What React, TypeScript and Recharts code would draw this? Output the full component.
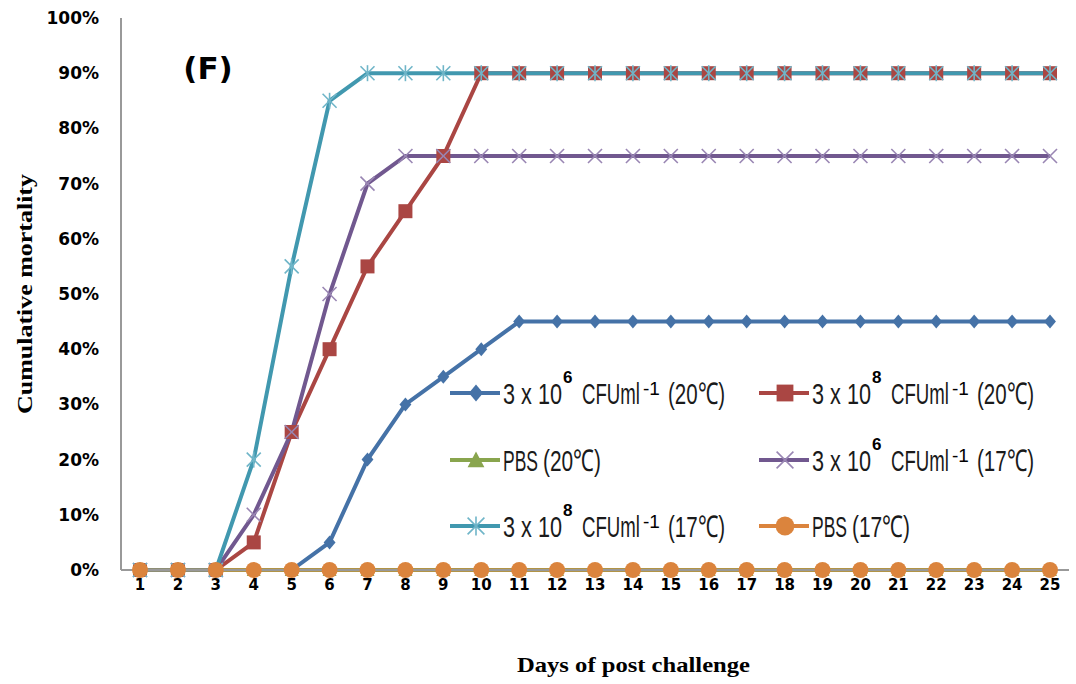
import React from 'react';
import { LineChart, Line, XAxis, YAxis } from 'recharts';

const days = ['1','2','3','4','5','6','7','8','9','10','11','12','13','14','15','16','17','18','19','20','21','22','23','24','25'];
const blue20e6 = [0,0,0,0,0,5,20,30,35,40,45,45,45,45,45,45,45,45,45,45,45,45,45,45,45];
const red20e8 = [0,0,0,5,25,40,55,65,75,90,90,90,90,90,90,90,90,90,90,90,90,90,90,90,90];
const pbs20 = [0,0,0,0,0,0,0,0,0,0,0,0,0,0,0,0,0,0,0,0,0,0,0,0,0];
const purple17e6 = [0,0,0,10,25,50,70,75,75,75,75,75,75,75,75,75,75,75,75,75,75,75,75,75,75];
const cyan17e8 = [0,0,0,20,55,85,90,90,90,90,90,90,90,90,90,90,90,90,90,90,90,90,90,90,90];
const pbs17 = [0,0,0,0,0,0,0,0,0,0,0,0,0,0,0,0,0,0,0,0,0,0,0,0,0];
const yTicks = [0,10,20,30,40,50,60,70,80,90,100];

const data = days.map((d, i) => ({
  day: d,
  a: blue20e6[i],
  b: red20e8[i],
  c: pbs20[i],
  d: purple17e6[i],
  e: cyan17e8[i],
  f: pbs17[i],
}));

type Kind = 'diamond' | 'square' | 'triangle' | 'x' | 'star' | 'circle';

const series: { key: string; color: string; mark: string; kind: Kind; width: number; base: string; exp?: string; temp: string }[] = [
  { key: 'a', color: '#4572A7', mark: '#4572A7', kind: 'diamond', width: 4, base: '3 x 10', exp: '6', temp: '(20℃)' },
  { key: 'b', color: '#AA4643', mark: '#AA4643', kind: 'square', width: 4, base: '3 x 10', exp: '8', temp: '(20℃)' },
  { key: 'c', color: '#89A54E', mark: '#89A54E', kind: 'triangle', width: 4, base: 'PBS', temp: '(20℃)' },
  { key: 'd', color: '#71588F', mark: '#9986B3', kind: 'x', width: 4, base: '3 x 10', exp: '6', temp: '(17℃)' },
  { key: 'e', color: '#4198AF', mark: '#6FB5C8', kind: 'star', width: 4, base: '3 x 10', exp: '8', temp: '(17℃)' },
  { key: 'f', color: '#DB843D', mark: '#DB843D', kind: 'circle', width: 3, base: 'PBS', temp: '(17℃)' },
];

function Marker({ cx, cy, kind, color, s = 1 }: { cx: number; cy: number; kind: Kind; color: string; s?: number }) {
  const r = 7 * s;
  switch (kind) {
    case 'diamond':
      return <polygon points={`${cx},${cy - r} ${cx + r * 0.85},${cy} ${cx},${cy + r} ${cx - r * 0.85},${cy}`} fill={color} />;
    case 'square':
      return <rect x={cx - r} y={cy - r} width={2 * r} height={2 * r} fill={color} />;
    case 'triangle':
      return <polygon points={`${cx},${cy - r} ${cx + r},${cy + r * 0.85} ${cx - r},${cy + r * 0.85}`} fill={color} />;
    case 'x':
      return (
        <g stroke={color} strokeWidth={1.6}>
          <line x1={cx - r} y1={cy - r} x2={cx + r} y2={cy + r} />
          <line x1={cx - r} y1={cy + r} x2={cx + r} y2={cy - r} />
        </g>
      );
    case 'star':
      return (
        <g stroke={color} strokeWidth={1.6}>
          <line x1={cx - r} y1={cy - r} x2={cx + r} y2={cy + r} />
          <line x1={cx - r} y1={cy + r} x2={cx + r} y2={cy - r} />
          <line x1={cx} y1={cy - r - 1} x2={cx} y2={cy + r + 1} />
        </g>
      );
    case 'circle':
    default:
      return <circle cx={cx} cy={cy} r={r + 1} fill={color} />;
  }
}

const sans = "'Liberation Sans', Arial, sans-serif";
const tickFont = "'DejaVu Sans', sans-serif";
const serif = "'Liberation Serif', 'Times New Roman', serif";

const legendCols = [503, 812];
const legendRows = [393, 460, 526];

function LegendEntry({ s, x0, cy }: { s: typeof series[number]; x0: number; cy: number }) {
  const base = cy + 11;
  const common = { fontFamily: sans, fontSize: 30, fill: '#1a1a1a', lengthAdjust: 'spacingAndGlyphs' as const };
  return (
    <g>
      <line x1={x0 - 53} y1={cy} x2={x0 - 3} y2={cy} stroke={s.color} strokeWidth={4} />
      <Marker cx={x0 - 27} cy={cy} kind={s.kind} color={s.mark} s={1.2} />
      {s.exp ? (
        <>
          <text x={x0} y={base} textLength={59} {...common}>{s.base}</text>
          <text x={x0 + 60} y={cy - 10} fontFamily={sans} fontSize={17} fontWeight="bold" fill="#000">{s.exp}</text>
          <text x={x0 + 79} y={base} textLength={58} {...common}>CFUml</text>
          <text x={x0 + 140} y={cy + 2} fontFamily={sans} fontSize={19} fill="#000">-1</text>
          <text x={x0 + 165} y={base} textLength={57} {...common}>{s.temp}</text>
        </>
      ) : (
        <>
          <text x={x0} y={base} textLength={35} {...common}>{s.base}</text>
          <text x={x0 + 40} y={base} textLength={58} {...common}>{s.temp}</text>
        </>
      )}
    </g>
  );
}

export default function App() {
  return (
    <div style={{ position: 'absolute', left: 0, top: 0, width: 1076, height: 684, background: '#fff' }}>
      <LineChart width={1076} height={684} data={data} margin={{ top: 18, right: 7, bottom: 0, left: 0 }}>
        <XAxis
          dataKey="day"
          height={114}
          padding={{ left: 19, right: 19 }}
          axisLine={{ stroke: '#999', strokeWidth: 2 }}
          tickLine={false}
          tick={{ fill: '#000', fontSize: 15, fontWeight: 'bold', fontFamily: tickFont }}
          tickMargin={3}
          interval={0}
        />
        <YAxis
          width={121}
          domain={[0, 100]}
          ticks={yTicks}
          interval={0}
          axisLine={{ stroke: '#999', strokeWidth: 2 }}
          tickLine={false}
          tickMargin={16}
          tickFormatter={(v: number) => `${v}%`}
          tick={{ fill: '#000', fontSize: 17, fontWeight: 'bold', fontFamily: tickFont }}
        />
        {series.map((s) => (
          <Line
            key={s.key}
            dataKey={s.key}
            type="linear"
            stroke={s.color}
            strokeWidth={s.width}
            isAnimationActive={false}
            dot={(p: any) => <Marker key={`${s.key}-${p.index}`} cx={p.cx} cy={p.cy} kind={s.kind} color={s.mark} />}
            activeDot={false}
          />
        ))}
        <text x={208} y={79} textAnchor="middle" fontSize={31} fontWeight="bold" fontFamily={tickFont} fill="#000">(F)</text>
        <text x={517} y={672} textLength={233} lengthAdjust="spacingAndGlyphs" fontSize={21} fontWeight="bold" fontFamily={serif} fill="#000">Days of post challenge</text>
        <text x={0} y={0} textLength={240} lengthAdjust="spacingAndGlyphs" transform="translate(32 414) rotate(-90)" fontSize={21} fontWeight="bold" fontFamily={serif} fill="#000">Cumulative mortality</text>
        {series.map((s, i) => (
          <LegendEntry key={`lg-${s.key}`} s={s} x0={legendCols[i % 2]} cy={legendRows[Math.floor(i / 2)]} />
        ))}
      </LineChart>
    </div>
  );
}
